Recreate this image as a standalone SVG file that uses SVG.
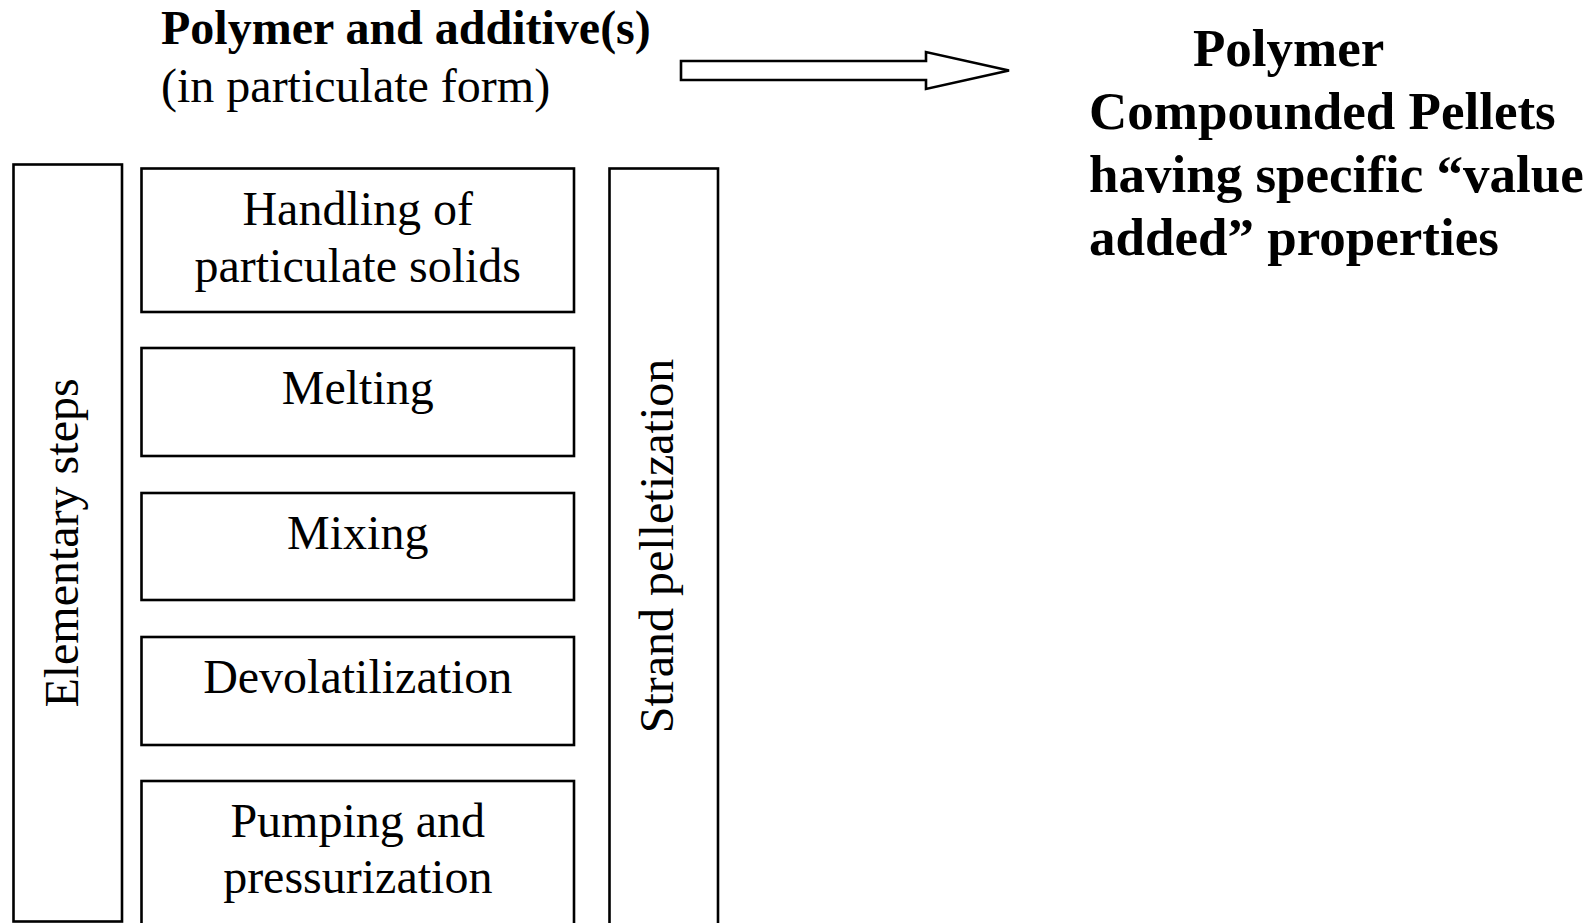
<svg xmlns="http://www.w3.org/2000/svg" width="1593" height="923" viewBox="0 0 1593 923">
<style>
.box{fill:#fff;stroke:#000;stroke-width:2.6}
.t{font-family:"Liberation Serif","Times New Roman",serif;font-size:48px;fill:#000}
.c{text-anchor:middle}
.b{font-weight:bold}
.rb{font-family:"Liberation Serif","Times New Roman",serif;font-size:53px;font-weight:bold;fill:#000}
</style>
<rect width="1593" height="923" fill="#fff"/>
<g id="input">
<text class="t b" x="161" y="44">Polymer and additive(s)</text>
<text class="t" x="161" y="102">(in particulate form)</text>
</g>
<g id="connectors">
<polygon class="box" points="681,61 926,61 926,52 1009,70.5 926,89 926,80 681,80"/>
</g>
<g id="output">
<text class="rb" x="1193" y="66">Polymer</text>
<text class="rb" x="1089" y="129">Compounded Pellets</text>
<text class="rb" x="1089" y="192">having specific “value</text>
<text class="rb" x="1089" y="255">added” properties</text>
</g>
<g id="elementary-steps">
<rect class="box" x="13.5" y="164.5" width="108.5" height="757"/>
<text class="t c" transform="translate(78,543) rotate(-90)">Elementary steps</text>
</g>
<g id="handling">
<rect class="box" x="141.5" y="168.5" width="432.5" height="143.5"/>
<text class="t c" x="357.75" y="225">Handling of</text>
<text class="t c" x="357.75" y="282">particulate solids</text>
</g>
<g id="melting">
<rect class="box" x="141.5" y="348" width="432.5" height="108"/>
<text class="t c" x="357.75" y="404">Melting</text>
</g>
<g id="mixing">
<rect class="box" x="141.5" y="493" width="432.5" height="107"/>
<text class="t c" x="357.75" y="549">Mixing</text>
</g>
<g id="devolatilization">
<rect class="box" x="141.5" y="637" width="432.5" height="108"/>
<text class="t c" x="357.75" y="693">Devolatilization</text>
</g>
<g id="pumping">
<rect class="box" x="141.5" y="781" width="432.5" height="200"/>
<text class="t c" x="357.75" y="837">Pumping and</text>
<text class="t c" x="357.75" y="893">pressurization</text>
</g>
<g id="strand-pelletization">
<rect class="box" x="609.5" y="168.5" width="108.5" height="800"/>
<text class="t c" transform="translate(673,546) rotate(-90)">Strand pelletization</text>
</g>
</svg>
